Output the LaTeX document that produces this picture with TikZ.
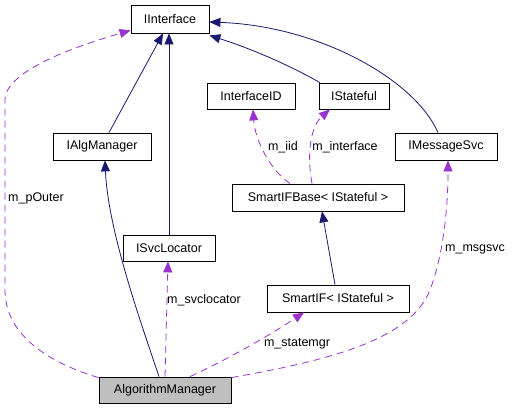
\documentclass[tikz,border=0pt]{standalone}
\usepackage{fontspec}
\setmainfont{Liberation Sans}
\usetikzlibrary{arrows.meta}
\definecolor{navyedge}{HTML}{191970}
\definecolor{purpleedge}{HTML}{9A32CD}
\definecolor{grayfill}{HTML}{BFBFBF}
\begin{document}
\begin{tikzpicture}[x=1pt,y=-1pt,
  cls/.style={draw=black,line width=0.8pt,inner sep=0pt,font=\fontsize{12.5}{14}\selectfont},
  inh/.style={draw=navyedge,line width=0.8pt,-{Triangle[length=11pt,width=9pt]}},
  use/.style={draw=purpleedge,line width=0.8pt,dash pattern=on 7pt off 5pt,-{Triangle[length=11pt,width=9pt]}},
  lbl/.style={inner sep=0pt,font=\fontsize{12.5}{14}\selectfont}]
\useasboundingbox (0,0) rectangle (513,408);
\node[cls,minimum width=78pt,minimum height=28pt] (IInterface) at (170,19) {IInterface};
\node[cls,minimum width=98pt,minimum height=27pt] (IAlgManager) at (102,146.5) {IAlgManager};
\node[cls,minimum width=88pt,minimum height=26pt] (InterfaceID) at (251,96) {InterfaceID};
\node[cls,minimum width=70pt,minimum height=26pt] (IStateful) at (354,96) {IStateful};
\node[cls,minimum width=102pt,minimum height=27pt] (IMessageSvc) at (446,146.5) {IMessageSvc};
\node[cls,minimum width=172pt,minimum height=27pt] (SmartIFBase) at (318,197.5) {SmartIFBase< IStateful >};
\node[cls,minimum width=92pt,minimum height=26pt] (ISvcLocator) at (169,248) {ISvcLocator};
\node[cls,minimum width=142pt,minimum height=27pt] (SmartIF) at (338,298.5) {SmartIF< IStateful >};
\node[cls,fill=grayfill,minimum width=132pt,minimum height=26pt] (AlgorithmManager) at (165,390) {AlgorithmManager};

% inheritance
\draw[inh] ([xshift=7pt]IAlgManager.north) -- ([xshift=-7pt]IInterface.south);
\draw[inh] (ISvcLocator.north) -- (ISvcLocator.north |- IInterface.south);
\draw[inh] ([xshift=-34pt]IStateful.north) .. controls (280,60) and (240,45) .. ([yshift=-2pt]IInterface.south east);
\draw[inh] ([xshift=-8pt]IMessageSvc.north) .. controls (415,80) and (320,26) .. ([yshift=-3pt]IInterface.east);
\draw[inh] ([xshift=-6pt]AlgorithmManager.north) .. controls (140,320) and (108,230) .. ([xshift=3pt]IAlgManager.south);
\draw[inh] ([xshift=-3pt]SmartIF.north) -- ([xshift=4pt]SmartIFBase.south);

% usage
\draw[use] (AlgorithmManager.north) -- ([xshift=-1pt]ISvcLocator.south);
\node[lbl] (lsvc) at (204,300) {m\_svclocator};
\draw[use] ([yshift=-1pt]AlgorithmManager.north west) .. controls (40,360) and (5,330) .. (5,290) -- (5,100) .. controls (5,70) and (80,45) .. ([yshift=3pt]IInterface.south west);
\node[lbl] (louter) at (36,198) {m\_pOuter};
\draw[use] ([xshift=25pt]AlgorithmManager.north) .. controls (230,358) and (270,335) .. ([xshift=-34pt]SmartIF.south);
\node[lbl] (lstate) at (297,344) {m\_statemgr};
\draw[use] ([yshift=-1pt]AlgorithmManager.north east) .. controls (330,360) and (410,340) .. (430,290) .. controls (445,250) and (448,200) .. ([xshift=2pt]IMessageSvc.south);
\node[lbl] (lmsg) at (475,249) {m\_msgsvc};
\draw[use] ([xshift=-28pt]SmartIFBase.north) .. controls (270,170) and (255,140) .. ([xshift=2pt]InterfaceID.south);
\node[lbl] (liid) at (283,147) {m\_iid};
\draw[use] ([xshift=-6pt]SmartIFBase.north) .. controls (306,150) and (312,125) .. ([xshift=-24pt]IStateful.south);
\node[lbl] (lint) at (345,147) {m\_interface};
\end{tikzpicture}
\end{document}
